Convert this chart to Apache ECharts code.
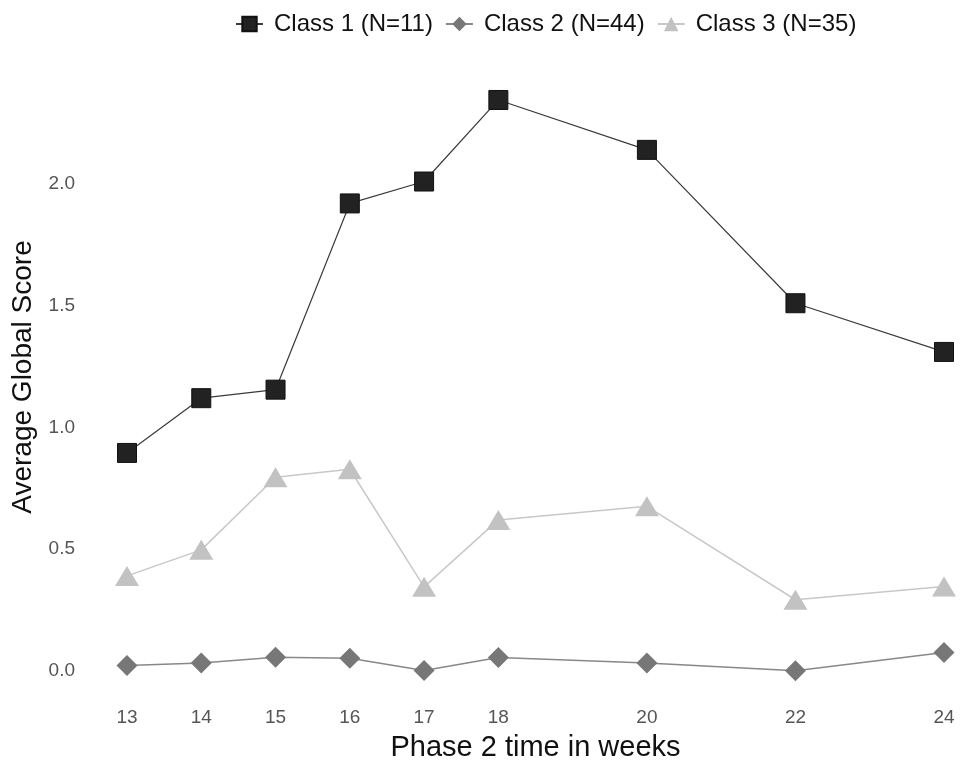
<!DOCTYPE html>
<html>
<head>
<meta charset="utf-8">
<script src="https://cdn.jsdelivr.net/npm/echarts@6/dist/echarts.min.js"></script>
<style>html,body{margin:0;padding:0;background:#fff;}#c{width:960px;height:772px;}</style>
</head>
<body>
<div id="c"></div>
<script>
var weeks = [13, 14, 15, 16, 17, 18, 20, 22, 24];
var class1 = [0.895, 1.12, 1.155, 1.92, 2.01, 2.345, 2.14, 1.51, 1.31];
var class2 = [0.022, 0.032, 0.056, 0.052, 0.001, 0.055, 0.032, 0.0, 0.075];
var class3 = [0.39, 0.497, 0.795, 0.828, 0.345, 0.62, 0.676, 0.292, 0.346];
var yTicks = [0, 0.5, 1.0, 1.5, 2.0];
var seriesNames = ['Class 1 (N=11)', 'Class 2 (N=44)', 'Class 3 (N=35)'];

function pairs(vals) { return weeks.map(function (w, i) { return [w, vals[i]]; }); }

var font = 'Liberation Sans, Arial, sans-serif';
var chart = echarts.init(document.getElementById('c'));
chart.setOption({
  animation: false,
  backgroundColor: '#fff',
  legend: {
    top: 7, left: 230,
    itemWidth: 27, itemHeight: 18, itemGap: 12,
    textStyle: { fontSize: 24, color: '#111111', fontFamily: font, padding: [0, 0, 0, 6] },
    data: seriesNames
  },
  grid: { left: 127, right: 16, top: 71, bottom: 89 },
  xAxis: {
    type: 'value', min: 13, max: 24,
    axisLine: { show: false }, axisTick: { show: false }, splitLine: { show: false },
    axisLabel: { customValues: weeks, fontSize: 19, color: '#555555', margin: 25, fontFamily: font },
    name: 'Phase 2 time in weeks', nameLocation: 'middle', nameGap: 50,
    nameTextStyle: { fontSize: 29, color: '#111111', fontFamily: font }
  },
  yAxis: {
    type: 'value', min: -0.05, max: 2.464,
    axisLine: { show: false }, axisTick: { show: false }, splitLine: { show: false },
    axisLabel: { customValues: yTicks, fontSize: 19, color: '#555555', margin: 52, fontFamily: font,
      formatter: function (v) { return v.toFixed(1); } },
    name: 'Average Global Score', nameLocation: 'middle', nameGap: 88,
    nameTextStyle: { fontSize: 28, color: '#111111', fontFamily: font }
  },
  series: [
    { name: seriesNames[0], type: 'line', data: pairs(class1), symbol: 'rect', symbolSize: 19,
      itemStyle: { color: '#222222', borderColor: '#111', borderWidth: 1 },
      lineStyle: { color: '#3a3a3a', width: 1.2 } },
    { name: seriesNames[1], type: 'line', data: pairs(class2), symbol: 'diamond', symbolSize: 21,
      itemStyle: { color: '#777777' },
      lineStyle: { color: '#888888', width: 1.5 } },
    { name: seriesNames[2], type: 'line', data: pairs(class3), symbol: 'triangle', symbolSize: [24, 20],
      itemStyle: { color: '#c2c2c2' },
      lineStyle: { color: '#c8c8c8', width: 1.5 } }
  ]
});
</script>
</body>
</html>
